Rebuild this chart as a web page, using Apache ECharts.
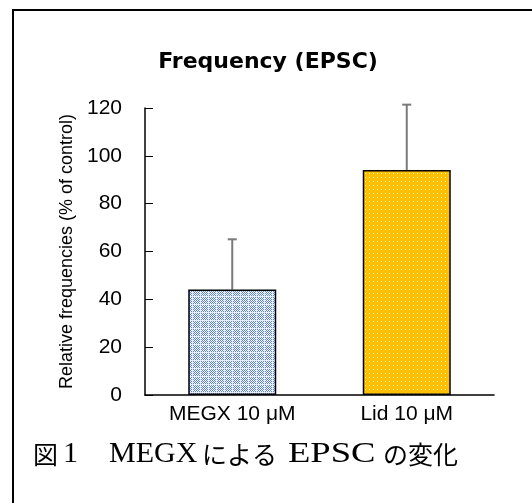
<!DOCTYPE html>
<html>
<head>
<meta charset="utf-8">
<script src="https://cdn.jsdelivr.net/npm/echarts@6/dist/echarts.min.js"></script>
<style>html,body{margin:0;padding:0;background:#fff}#c{width:532px;height:503px}</style>
</head>
<body>
<div id="c"></div>
<script>
const categories = ['MEGX 10 μM', 'Lid 10 μM'];
const means = [44.1, 94.1];
const errors = [21.0, 27.3];
const yTicks = [0, 20, 40, 60, 80, 100, 120];

function makePattern(w, h, bg, draw) {
  const c = document.createElement('canvas');
  c.width = w; c.height = h;
  const ctx = c.getContext('2d');
  ctx.fillStyle = bg; ctx.fillRect(0, 0, w, h);
  draw(ctx);
  return c;
}
const bluePat = makePattern(8, 8, '#ffffff', ctx => {
  for (let x = 0; x < 8; x++) for (let y = 0; y < 8; y++) {
    let col;
    if (x === 0 || y === 0) col = '#e6ecf9';
    else if ((x + y) % 2 === 0) col = '#5f86d4';
    else col = '#f4f7fd';
    ctx.fillStyle = col; ctx.fillRect(x, y, 1, 1);
  }
});
const goldPat = makePattern(4, 4, '#ffc000', ctx => {
  ctx.fillStyle = 'rgba(255,255,255,0.85)';
  ctx.fillRect(1, 1, 1, 1);
});

const chart = echarts.init(document.getElementById('c'), null, {renderer: 'canvas'});
chart.setOption({
  animation: false,
  grid: {left: 145, right: 38, top: 108, bottom: 108},
  xAxis: {
    type: 'category', data: categories,
    axisLine: {lineStyle: {color: '#000', width: 1.5}},
    axisTick: {show: false},
    axisLabel: {color: '#000', fontFamily: 'Liberation Sans', fontSize: 21, margin: 9}
  },
  yAxis: {
    type: 'value', min: 0, max: 120, interval: 20,
    name: 'Relative frequencies (% of control)',
    nameLocation: 'middle', nameRotate: 90, nameGap: 68,
    nameTextStyle: {color: '#000', fontFamily: 'Liberation Sans', fontSize: 18},
    axisLine: {show: true, lineStyle: {color: '#000', width: 1.5}},
    axisTick: {show: true, inside: true, length: 8, lineStyle: {color: '#000', width: 1}},
    splitLine: {show: false},
    axisLabel: {color: '#000', fontFamily: 'Liberation Sans', fontSize: 21, margin: 23,
      formatter: v => yTicks.includes(v) ? String(v) : ''}
  },
  series: [
    {
      type: 'bar', barWidth: 88,
      data: means.map((v, i) => ({
        value: v,
        itemStyle: {color: {image: i === 0 ? bluePat : goldPat, repeat: 'repeat'}, borderColor: '#000', borderWidth: 1.5}
      })),
      z: 2
    },
    {
      type: 'custom',
      data: means.map((v, i) => [i, v, v + errors[i]]),
      renderItem: (params, api) => {
        const p0 = api.coord([api.value(0), api.value(1)]);
        const p1 = api.coord([api.value(0), api.value(2)]);
        const hw = 4.5;
        return {
          type: 'group',
          children: [
            {type: 'line', shape: {x1: p0[0], y1: p0[1], x2: p1[0], y2: p1[1]}, style: {stroke: '#7a7a7a', lineWidth: 2}},
            {type: 'line', shape: {x1: p1[0] - hw, y1: p1[1], x2: p1[0] + hw, y2: p1[1]}, style: {stroke: '#7a7a7a', lineWidth: 2}}
          ]
        };
      },
      z: 1
    }
  ],
  graphic: [
    {type: 'rect', shape: {x: 13, y: 10, width: 600, height: 600}, style: {fill: 'none', stroke: '#000', lineWidth: 2}, silent: true},
    {type: 'text', x: 268, y: 62, style: {text: 'Frequency (EPSC)', fontFamily: 'DejaVu Sans', fontWeight: 'bold', fontSize: 22, fill: '#000', textAlign: 'center', textVerticalAlign: 'middle'}},
    {type: 'text', x: 33, y: 454, style: {text: '図', fontFamily: 'Noto Sans CJK JP', fontSize: 25, fill: '#000', textVerticalAlign: 'middle'}},
    {type: 'text', x: 63, y: 454, style: {text: '1', fontFamily: 'Liberation Serif', fontSize: 30, fill: '#000', textVerticalAlign: 'middle'}},
    {type: 'text', x: 109, y: 454, style: {text: 'MEGX', fontFamily: 'Liberation Serif', fontSize: 30, fill: '#000', textVerticalAlign: 'middle'}},
    {type: 'text', x: 202, y: 454, style: {text: 'による', fontFamily: 'Noto Sans CJK JP', fontSize: 25, fill: '#000', textVerticalAlign: 'middle'}},
    {type: 'text', x: 288, y: 454, scaleX: 1.22, style: {text: 'EPSC', fontFamily: 'Liberation Serif', fontSize: 30, fill: '#000', textVerticalAlign: 'middle'}},
    {type: 'text', x: 383, y: 454, style: {text: 'の変化', fontFamily: 'Noto Sans CJK JP', fontSize: 25, fill: '#000', textVerticalAlign: 'middle'}}
  ]
});
</script>
</body>
</html>
